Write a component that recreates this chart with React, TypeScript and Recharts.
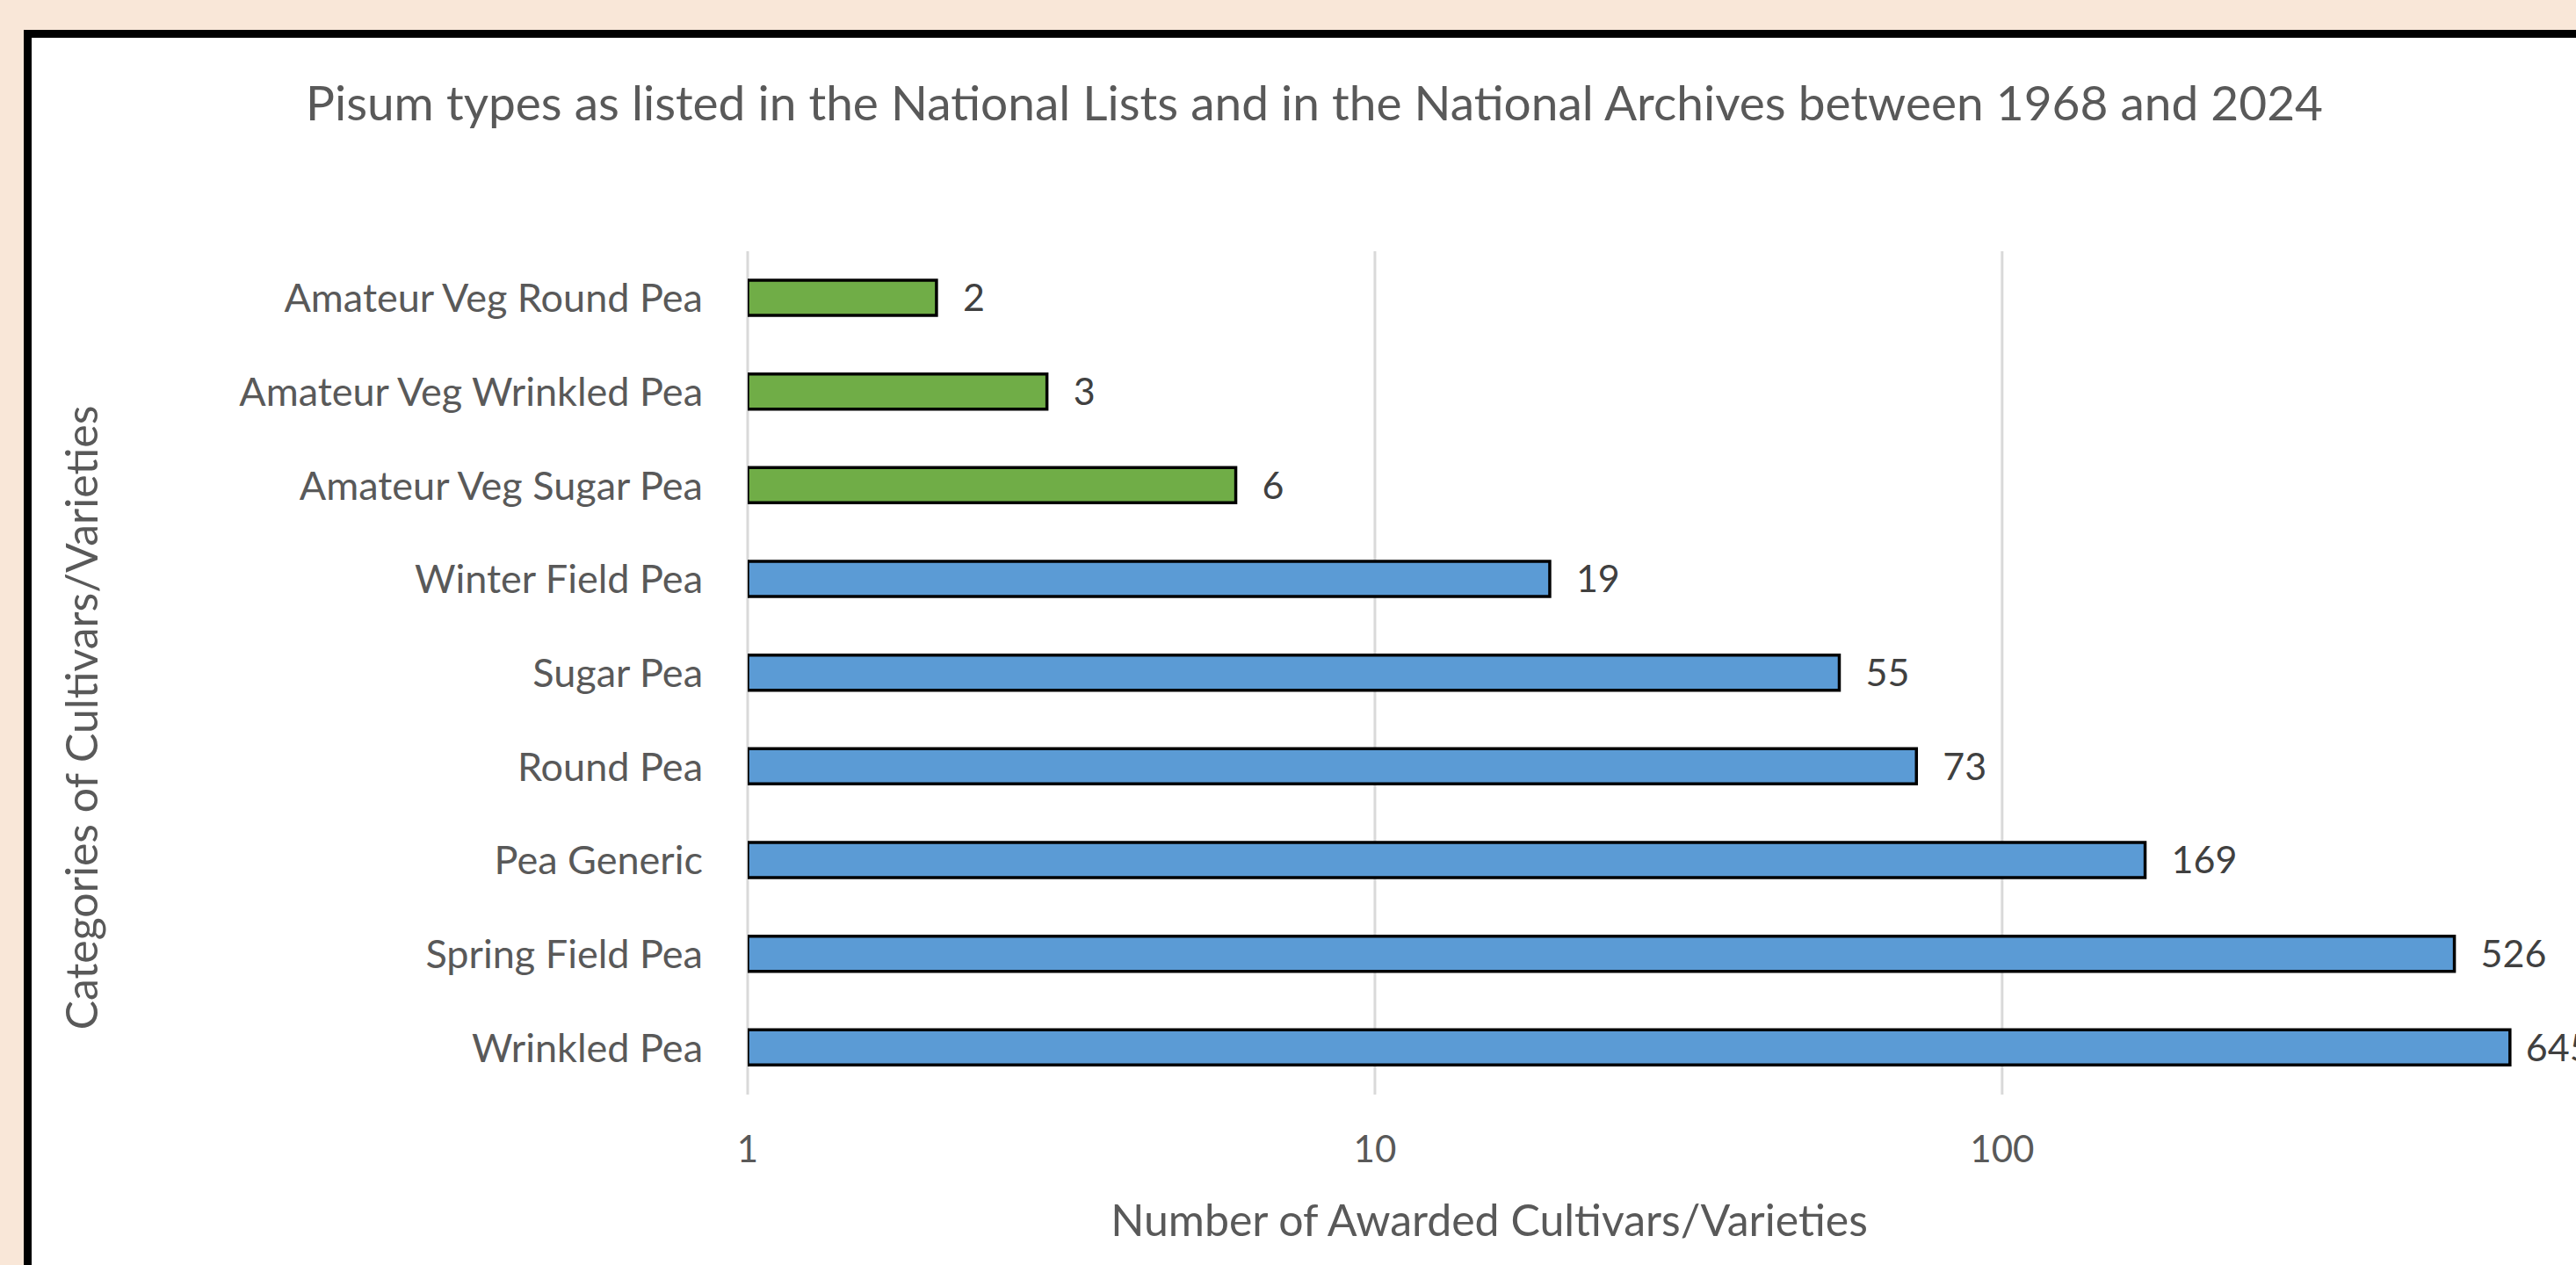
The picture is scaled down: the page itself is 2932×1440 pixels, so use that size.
import { BarChart, Bar, XAxis, YAxis, CartesianGrid, LabelList, Cell } from "recharts";

const categories = [
  "Amateur Veg Round Pea",
  "Amateur Veg Wrinkled Pea",
  "Amateur Veg Sugar Pea",
  "Winter Field Pea",
  "Sugar Pea",
  "Round Pea",
  "Pea Generic",
  "Spring Field Pea",
  "Wrinkled Pea",
];
const counts = [2, 3, 6, 19, 55, 73, 169, 526, 645];
const groups = ["amateur", "amateur", "amateur", "main", "main", "main", "main", "main", "main"];
const xTicks = [1, 10, 100];

const groupColors: Record<string, string> = { amateur: "#70AD47", main: "#5B9BD5" };

const data = categories.map((name, i) => ({ name, value: counts[i], group: groups[i] }));

const FONT = "Lato, 'Open Sans', sans-serif";
const GREY = "#595959";

const CHART_W = 2942;
const MARGIN_R = 7;
const PLOT_RIGHT = CHART_W - MARGIN_R;
const LABEL_SIZE = 43;

// value label right of the bar; pulled back inside the plot when it would run past it (like Excel does)
function ValueLabel(props: any) {
  const { x, y, width, height, value } = props;
  const textW = String(value).length * LABEL_SIZE * 0.56;
  let lx = x + width + 30;
  if (lx + textW > PLOT_RIGHT) lx = Math.max(x + width + 18, PLOT_RIGHT - textW);
  return (
    <text
      x={lx}
      y={y + height / 2}
      dy="0.36em"
      fill="#404040"
      fontSize={LABEL_SIZE}
      fontFamily={FONT}
    >
      {value}
    </text>
  );
}

export default function App() {
  return (
    <div
      style={{
        position: "fixed",
        inset: 0,
        overflow: "hidden",
        background: "#f9e7d8",
        fontFamily: FONT,
      }}
    >
      {/* white chart panel with its thick black frame, cut off at right and bottom */}
      <div
        style={{
          position: "absolute",
          left: 27,
          top: 34,
          width: 3000,
          height: 1500,
          boxSizing: "border-box",
          border: "9px solid #000",
          background: "#fff",
        }}
      />
      <div
        style={{
          position: "absolute",
          left: 1496,
          top: 116,
          transform: "translate(-50%, -50%)",
          whiteSpace: "nowrap",
          lineHeight: 1,
          fontSize: 55,
          color: GREY,
        }}
      >
        Pisum types as listed in the National Lists and in the National Archives between 1968 and 2024
      </div>
      <div
        style={{
          position: "absolute",
          left: 1695,
          top: 1388,
          transform: "translate(-50%, -50%)",
          whiteSpace: "nowrap",
          lineHeight: 1,
          fontSize: 50,
          color: GREY,
        }}
      >
        Number of Awarded Cultivars/Varieties
      </div>
      <div
        style={{
          position: "absolute",
          left: 92,
          top: 817,
          transform: "translate(-50%, -50%) rotate(-90deg)",
          whiteSpace: "nowrap",
          lineHeight: 1,
          fontSize: 50,
          color: GREY,
        }}
      >
        Categories of Cultivars/Varieties
      </div>
      <div style={{ position: "absolute", left: 0, top: 0 }}>
        <BarChart
          width={CHART_W}
          height={1440}
          data={data}
          layout="vertical"
          margin={{ top: 286, right: MARGIN_R, bottom: 94, left: 0 }}
        >
          <CartesianGrid horizontal={false} stroke="#d9d9d9" strokeWidth={3} />
          <XAxis
            type="number"
            scale="log"
            domain={[1, 830]}
            ticks={xTicks}
            allowDataOverflow
            axisLine={false}
            tickLine={false}
            tickSize={0}
            tickMargin={47}
            height={100}
            tick={{ fill: GREY, fontSize: 42, fontFamily: FONT }}
          />
          <YAxis
            type="category"
            dataKey="name"
            width={851}
            axisLine={false}
            tickLine={false}
            tickSize={0}
            tickMargin={51}
            interval={0}
            tick={{ fill: GREY, fontSize: 45, fontFamily: FONT }}
          />
          <Bar dataKey="value" barSize={40} stroke="#000" strokeWidth={3.5} isAnimationActive={false}>
            {data.map((d) => (
              <Cell key={d.name} fill={groupColors[d.group]} />
            ))}
            <LabelList dataKey="value" content={ValueLabel} />
          </Bar>
        </BarChart>
      </div>
    </div>
  );
}
